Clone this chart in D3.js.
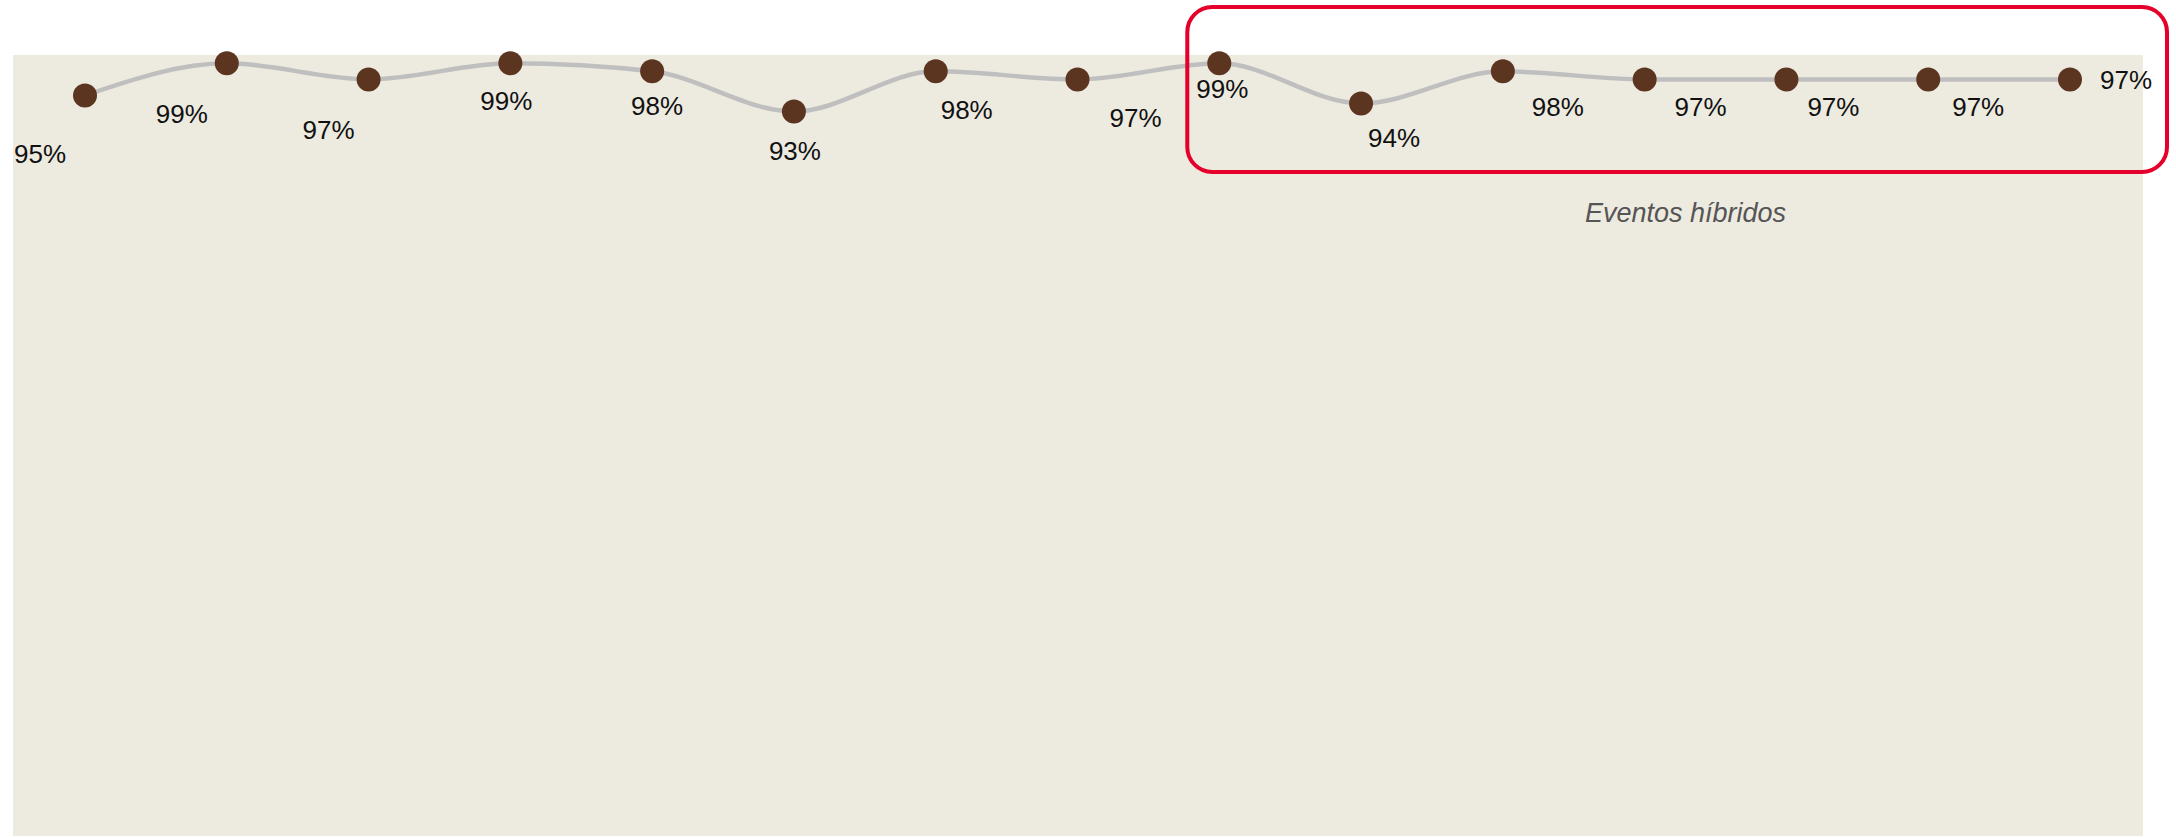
<!DOCTYPE html>
<html>
<head>
<meta charset="utf-8">
<script src="https://cdn.jsdelivr.net/npm/d3@7"></script>
<style>
  body { margin: 0; background: #fff; }
  svg { display: block; }
</style>
</head>
<body>
<script>
// Data: satisfaction per event (last six are hybrid events)
const events = ["E1","E2","E3","E4","E5","E6","E7","E8","E9","E10","E11","E12","E13","E14","E15"];
const values = [95, 99, 97, 99, 98, 93, 98, 97, 99, 94, 98, 97, 97, 97, 97];
const hybridEvents = ["E9","E10","E11","E12","E13","E14","E15"];
const hybridLabel = "Eventos híbridos";

const width = 2176, height = 837;

const svg = d3.select("body").append("svg")
              .attr("width", width)
              .attr("height", height);

// beige panel
svg.append("rect")
   .attr("x", 13).attr("y", 55)
   .attr("width", 2130).attr("height", 781)
   .attr("fill", "#edeae0");

let xScale = d3.scalePoint()
               .domain(events)
               .range([85, 2070]);

let yScale = d3.scaleLinear()
               .domain([90, 100])
               .range([135.6, 55.3]);

// line
const line = d3.line()
               .x((d, i) => xScale(events[i]))
               .y(d => yScale(d))
               .curve(d3.curveMonotoneX);

svg.append("path")
   .datum(values)
   .attr("d", line)
   .attr("fill", "none")
   .attr("stroke", "#bfbfbf")
   .attr("stroke-width", 4.5);

// dots
svg.selectAll("circle.dot")
   .data(values)
   .join("circle")
   .attr("class", "dot")
   .attr("cx", (d, i) => xScale(events[i]))
   .attr("cy", d => yScale(d))
   .attr("r", 12)
   .attr("fill", "#5c3520");

// label nudges relative to each dot (layout only)
const labelNudge = [[-45,68],[-45,60],[-40,60],[-4,47],[5,44],[1,48],[31,48],[58,48],
                    [3,35],[33,44],[55,45],[56,37],[47,37],[50,37],[56,10]];

svg.selectAll("text.val")
   .data(values)
   .join("text")
   .attr("class", "val")
   .attr("x", (d, i) => xScale(events[i]) + labelNudge[i][0])
   .attr("y", (d, i) => yScale(d) + labelNudge[i][1])
   .attr("text-anchor", "middle")
   .attr("font-family", "Liberation Sans, Arial, sans-serif")
   .attr("font-size", 26)
   .attr("fill", "#111")
   .text(d => d + "%");

// hybrid events box
const boxX0 = xScale(hybridEvents[0]) - 32;
const boxX1 = xScale(hybridEvents[hybridEvents.length - 1]) + 97;
svg.append("rect")
   .attr("x", boxX0).attr("y", 7)
   .attr("width", boxX1 - boxX0).attr("height", 165)
   .attr("rx", 25).attr("ry", 25)
   .attr("fill", "none")
   .attr("stroke", "#e4002b")
   .attr("stroke-width", 4);

svg.append("text")
   .attr("x", (xScale(hybridEvents[3]) + xScale(hybridEvents[4])) / 2 - 30)
   .attr("y", 222)
   .attr("text-anchor", "middle")
   .attr("font-family", "Liberation Sans, Arial, sans-serif")
   .attr("font-style", "italic")
   .attr("font-size", 27)
   .attr("fill", "#555")
   .text(hybridLabel);
</script>
</body>
</html>
